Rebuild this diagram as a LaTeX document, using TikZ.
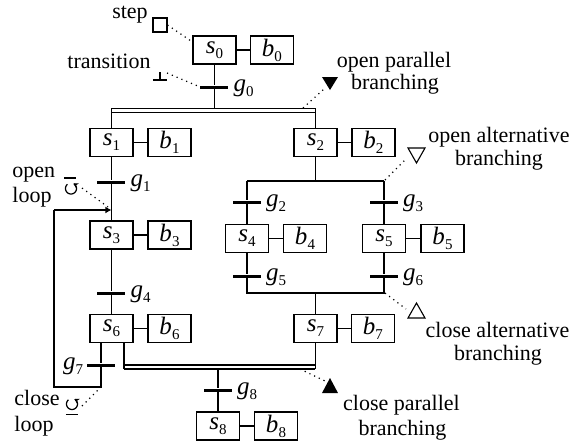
\documentclass[tikz,border=0pt]{standalone}
\usepackage{fontspec}
\setmainfont{Liberation Serif}
\usetikzlibrary{arrows.meta}
\newcommand{\lab}[2]{\textit{#1}\raisebox{-0.45ex}{\fontsize{7.5}{8}\selectfont #2}}
\begin{document}
\begin{tikzpicture}[x=0.5pt,y=-0.5pt, font=\fontsize{11}{12}\selectfont,
  stepbox/.style={draw, line width=0.55pt, minimum width=21.5pt, minimum height=14pt, inner sep=0pt, font=\fontsize{12.5}{12}\selectfont},
  trans/.style={fill=black, minimum width=14pt, minimum height=1.5pt, inner sep=0pt},
  ln/.style={line width=0.55pt},
  dot/.style={dotted, line width=0.6pt},
  glab/.style={font=\fontsize{12.5}{12}\selectfont, inner sep=0pt},
  txt/.style={anchor=base, inner sep=0pt},
  icon/.style={line width=0.55pt},
  looparrow/.style={line width=0.6pt, -{Stealth[length=2.4pt,width=2.8pt]}}]
\useasboundingbox (0,0) rectangle (575,447);
% steps and actions
\node[stepbox] (s0) at (214.5,50) {\lab{s}{0}};
\node[stepbox] (b0) at (272,50) {\lab{b}{0}};
\node[stepbox] (s1) at (111.5,142.5) {\lab{s}{1}};
\node[stepbox] (b1) at (169.5,142.5) {\lab{b}{1}};
\node[stepbox] (s2) at (315.5,142.5) {\lab{s}{2}};
\node[stepbox] (b2) at (373.5,142.5) {\lab{b}{2}};
\node[stepbox] (s3) at (111.5,235) {\lab{s}{3}};
\node[stepbox] (b3) at (169.5,235) {\lab{b}{3}};
\node[stepbox] (s4) at (247,238.5) {\lab{s}{4}};
\node[stepbox] (b4) at (305,238.5) {\lab{b}{4}};
\node[stepbox] (s5) at (384,238.5) {\lab{s}{5}};
\node[stepbox] (b5) at (442.5,238.5) {\lab{b}{5}};
\node[stepbox] (s6) at (111.5,328.5) {\lab{s}{6}};
\node[stepbox] (b6) at (169.5,328.5) {\lab{b}{6}};
\node[stepbox] (s7) at (315.5,328.5) {\lab{s}{7}};
\node[stepbox] (b7) at (373,328.5) {\lab{b}{7}};
\node[stepbox] (s8) at (218,426) {\lab{s}{8}};
\node[stepbox] (b8) at (276,426) {\lab{b}{8}};
\foreach \i in {0,...,8} {\draw[ln] (s\i) -- (b\i);}
% transitions
\node[trans] (t0) at (214.5,87) {};
\node[trans] (t1) at (111.5,182) {};
\node[trans] (t2) at (247,202) {};
\node[trans] (t3) at (384,202) {};
\node[trans] (t4) at (111.5,293) {};
\node[trans] (t5) at (247,276) {};
\node[trans] (t6) at (384,276) {};
\node[trans] (t7) at (101,365) {};
\node[trans] (t8) at (218,390) {};
\foreach \i in {0,1,2,3,4,5,6,8} {\node[glab, anchor=west] (g\i) at ([xshift=2.2pt,yshift=-0.5pt]t\i.east) {\lab{g}{\i}};}
\node[glab, anchor=east] (g7) at ([xshift=-1.5pt,yshift=-0.5pt]t7.west) {\lab{g}{7}};
% open parallel branching
\coordinate (p0) at (214.5,108.3);
\coordinate (pL) at (111.5,108.3);
\coordinate (pR) at (315.5,108.3);
\draw[ln] (s0) -- (t0) -- (p0);
\draw[ln] (pL) -- (pR);
\draw[ln] ([yshift=-2pt]pL) -- ([yshift=-2pt]pR);
\draw[ln] (pL) -- (s1);
\draw[ln] (pR) -- (s2);
% left chain
\coordinate (j) at (111.5,210);
\draw[ln] (s1) -- (t1) -- (s3);
\draw[ln] (s3) -- (t4) -- (s6);
% loop
\coordinate (l1) at (101,387);
\coordinate (l2) at (54,387);
\coordinate (l3) at (54,210);
\draw[ln] (s6.south -| t7) -- (t7) -- (l1) -- (l2) -- (l3);
\draw[ln, -{Latex[length=3pt,width=3.4pt]}] (l3) -- (j);
% alternative branching
\coordinate (a0) at (315.5,181);
\coordinate (aL) at (247,181);
\coordinate (aR) at (384,181);
\draw[ln] (s2) -- (a0);
\draw[ln] (aL) -- (aR);
\draw[ln] (aL) -- (t2) -- (s4);
\draw[ln] (aR) -- (t3) -- (s5);
\coordinate (cL) at (247,293);
\coordinate (cR) at (384,293);
\coordinate (c0) at (315.5,293);
\draw[ln] (s4) -- (t5) -- (cL) -- (cR) -- (t6) -- (s5);
\draw[ln] (c0) -- (s7);
% close parallel branching
\coordinate (qL) at (124,365);
\coordinate (qR) at (315.5,365);
\coordinate (q8) at (218,369);
\draw[ln] (qL) -- (qR);
\draw[ln] ([yshift=-2pt]qL) -- ([yshift=-2pt]qR);
\draw[ln] (s6.south -| qL) -- ([yshift=-2pt]qL);
\draw[ln] (s7) -- ([yshift=-2pt]qR);
\draw[ln] (q8) -- (t8) -- (s8);
% annotations: step
\node[draw, icon, minimum size=7pt, inner sep=0pt] (istep) at (160,25) {};
\node[txt] (tstep) at (130,18) {step};
\draw[dot] (istep.east) -- ([yshift=4pt]s0.west);
% transition
\coordinate (itr) at (160,80);
\draw[icon] ([xshift=-3.5pt]itr) -- ([xshift=3.5pt]itr);
\draw[icon] (itr) -- ([yshift=4pt]itr);
\node[txt] (ttr) at (109,68) {transition};
\draw[dot] (167,73) -- (t0.west);
% open parallel
\fill (322,77) -- (338,77) -- (330,90) -- cycle;
\node[txt] (top1) at (394,67) {open parallel};
\node[txt] (top2) at (395,89) {branching};
\draw[dot] (303,108) -- (324,89);
% open alternative
\draw[icon] (408,148) -- (425,148) -- (416.5,163) -- cycle;
\node[txt] (toa1) at (499,142) {open alternative};
\node[txt] (toa2) at (499,165) {branching};
\draw[dot] (385,180) -- (405,160);
% close alternative
\draw[icon] (416.5,303) -- (425,318) -- (408,318) -- cycle;
\node[txt] (tca1) at (497.5,337) {close alternative};
\node[txt] (tca2) at (498,360.5) {branching};
\draw[dot] (385,293) -- (406,309);
% close parallel
\fill (330,378) -- (338,393) -- (322,393) -- cycle;
\node[txt] (tcp1) at (401.5,410) {close parallel};
\node[txt] (tcp2) at (402.5,435) {branching};
\draw[dot] (300,369) -- (325,381);
% open loop
\draw[icon] (64.5,178) -- (76.5,178);
\draw[looparrow] plot[domain=130:425, samples=40] ({71+5.5*cos(\x)}, {188.5-5.5*sin(\x)});
\node[txt, anchor=base west] (tol1) at (12,177) {open};
\node[txt, anchor=base west] (tol2) at (12,202) {loop};
\draw[dot] (82,188) -- (108,207);
% close loop
\draw[icon] (66,414.5) -- (78,414.5);
\draw[looparrow] plot[domain=130:425, samples=40] ({72+5.5*cos(\x)}, {404-5.5*sin(\x)});
\node[txt, anchor=base west] (tcl1) at (14,405) {close};
\node[txt, anchor=base west] (tcl2) at (14,431) {loop};
\draw[dot] (82,406) -- (101,387);
\end{tikzpicture}
\end{document}
